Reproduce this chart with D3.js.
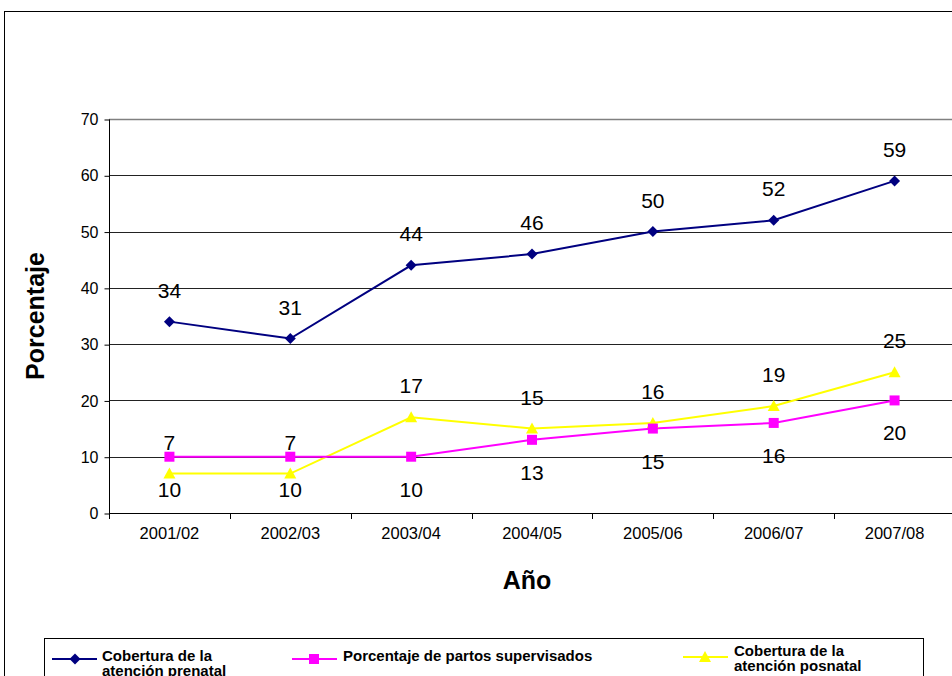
<!DOCTYPE html>
<html>
<head>
<meta charset="utf-8">
<script src="https://cdn.jsdelivr.net/npm/d3@7"></script>
<style>
  html, body { margin: 0; padding: 0; background: #fff; overflow: hidden; }
  svg { display: block; font-family: "Liberation Sans", Arial, sans-serif; }
</style>
</head>
<body>
<svg id="chart" width="952" height="676"></svg>
<script>
const categories = ["2001/02", "2002/03", "2003/04", "2004/05", "2005/06", "2006/07", "2007/08"];
const prenatal = [34, 31, 44, 46, 50, 52, 59];
const partos = [10, 10, 10, 13, 15, 16, 20];
const posnatal = [7, 7, 17, 15, 16, 19, 25];
const yTicks = [0, 10, 20, 30, 40, 50, 60, 70];
const seriesNames = ["Cobertura de la\natención prenatal", "Porcentaje de partos supervisados", "Cobertura de la\natención posnatal"];

const svg = d3.select("#chart");

// outer chart border
svg.append("rect").attr("x", 4.5).attr("y", 11.5).attr("width", 1000).attr("height", 700)
  .attr("fill", "none").attr("stroke", "#000").attr("stroke-width", 1);

const pLeft = 109, pRight = 955, pTop = 119, pBottom = 513;
const x = d3.scaleBand().domain(categories).range([pLeft, pRight]);
const y = d3.scaleLinear().domain([0, 70]).range([pBottom, pTop]);

// gridlines
svg.append("g").selectAll("line").data(yTicks.filter(t => t > 0 && t < 70)).join("line")
  .attr("x1", pLeft).attr("x2", pRight)
  .attr("y1", d => Math.round(y(d)) + 0.5).attr("y2", d => Math.round(y(d)) + 0.5)
  .attr("stroke", "#222").attr("stroke-width", 1);
// top plot border
svg.append("line").attr("x1", pLeft).attr("x2", pRight)
  .attr("y1", Math.round(y(70)) + 0.5).attr("y2", Math.round(y(70)) + 0.5)
  .attr("stroke", "#808080").attr("stroke-width", 1.5);

// y axis
const yAxis = d3.axisLeft(y).tickValues(yTicks).tickSize(5).tickPadding(6).tickFormat(d3.format("d"));
const gy = svg.append("g").attr("transform", `translate(${pLeft + 0.5},0.5)`).call(yAxis);
gy.select(".domain").attr("stroke", "#000").attr("d", `M0,${y(70)}V${pBottom}`);
gy.selectAll(".tick line").attr("stroke", "#000");
gy.selectAll("text").attr("font-size", 16).attr("fill", "#000").attr("font-family", "Liberation Sans, Arial, sans-serif");

// x axis
const xAxis = d3.axisBottom(x).tickSize(0).tickPadding(14);
const gx = svg.append("g").attr("transform", `translate(0,${pBottom + 0.5})`).call(xAxis);
gx.select(".domain").attr("stroke", "#000").attr("d", `M${pLeft},0H${pRight}`);
gx.selectAll("text").attr("font-size", 16.5).attr("fill", "#000").attr("font-family", "Liberation Sans, Arial, sans-serif");
// tick marks at band boundaries
const bounds = categories.map(c => x(c)).concat([x(categories[categories.length - 1]) + x.bandwidth()]);
svg.append("g").selectAll("line").data(bounds).join("line")
  .attr("x1", d => Math.round(d) + 0.5).attr("x2", d => Math.round(d) + 0.5)
  .attr("y1", pBottom).attr("y2", pBottom + 6).attr("stroke", "#000");

// axis titles
svg.append("text").attr("transform", `translate(44,${(pTop + pBottom) / 2}) rotate(-90)`)
  .attr("text-anchor", "middle").attr("font-size", 25).attr("font-weight", "bold").text("Porcentaje");
svg.append("text").attr("x", 527).attr("y", 589).attr("text-anchor", "middle")
  .attr("font-size", 25).attr("font-weight", "bold").text("Año");

const cx = c => x(c) + x.bandwidth() / 2;
const line = d3.line().x((d, i) => cx(categories[i])).y(d => y(d));

const series = [
  { values: prenatal, color: "#000080", marker: "diamond", labelDy: -24 },
  { values: partos, color: "#FF00FF", marker: "square", labelDy: 40 },
  { values: posnatal, color: "#FFFF00", marker: "triangle", labelDy: -24 }
];

function markerPath(type) {
  if (type === "diamond") return "M0,-5.5L5.5,0L0,5.5L-5.5,0Z";
  if (type === "square") return "M-5,-5H5V5H-5Z";
  return "M0,-6L6,5H-6Z";
}

series.slice().reverse().forEach(s => {
  svg.append("path").datum(s.values).attr("d", line)
    .attr("fill", "none").attr("stroke", s.color).attr("stroke-width", 2);
});
series.slice().reverse().forEach(s => {
  svg.append("g").selectAll("path").data(s.values).join("path")
    .attr("transform", (d, i) => `translate(${cx(categories[i])},${y(d)})`)
    .attr("d", markerPath(s.marker)).attr("fill", s.color);
});
series.forEach(s => {
  svg.append("g").selectAll("text").data(s.values).join("text")
    .attr("x", (d, i) => cx(categories[i])).attr("y", d => y(d) + s.labelDy)
    .attr("text-anchor", "middle").attr("font-size", 21).attr("fill", "#000").text(d => d);
});

// legend
svg.append("rect").attr("x", 44.5).attr("y", 638.5).attr("width", 879).attr("height", 60)
  .attr("fill", "#fff").attr("stroke", "#000").attr("stroke-width", 1);
const legendItems = [
  { s: series[0], x1: 52, mx: 75, x2: 97, my: 659, tx: 102, ty: 661 },
  { s: series[1], x1: 292, mx: 314, x2: 337, my: 659, tx: 343, ty: 661 },
  { s: series[2], x1: 683, mx: 705, x2: 728, my: 657, tx: 734, ty: 656 }
];
legendItems.forEach((it, k) => {
  const g = svg.append("g");
  g.append("line").attr("x1", it.x1).attr("x2", it.x2).attr("y1", it.my).attr("y2", it.my)
    .attr("stroke", it.s.color).attr("stroke-width", 2);
  g.append("path").attr("transform", `translate(${it.mx},${it.my})`)
    .attr("d", markerPath(it.s.marker)).attr("fill", it.s.color);
  const t = g.append("text").attr("x", it.tx).attr("y", it.ty)
    .attr("font-size", 15).attr("font-weight", "bold").attr("fill", "#000");
  seriesNames[k].split("\n").forEach((ln, j) => {
    t.append("tspan").attr("x", it.tx).attr("dy", j === 0 ? 0 : 14.5).text(ln);
  });
});
</script>
</body>
</html>
